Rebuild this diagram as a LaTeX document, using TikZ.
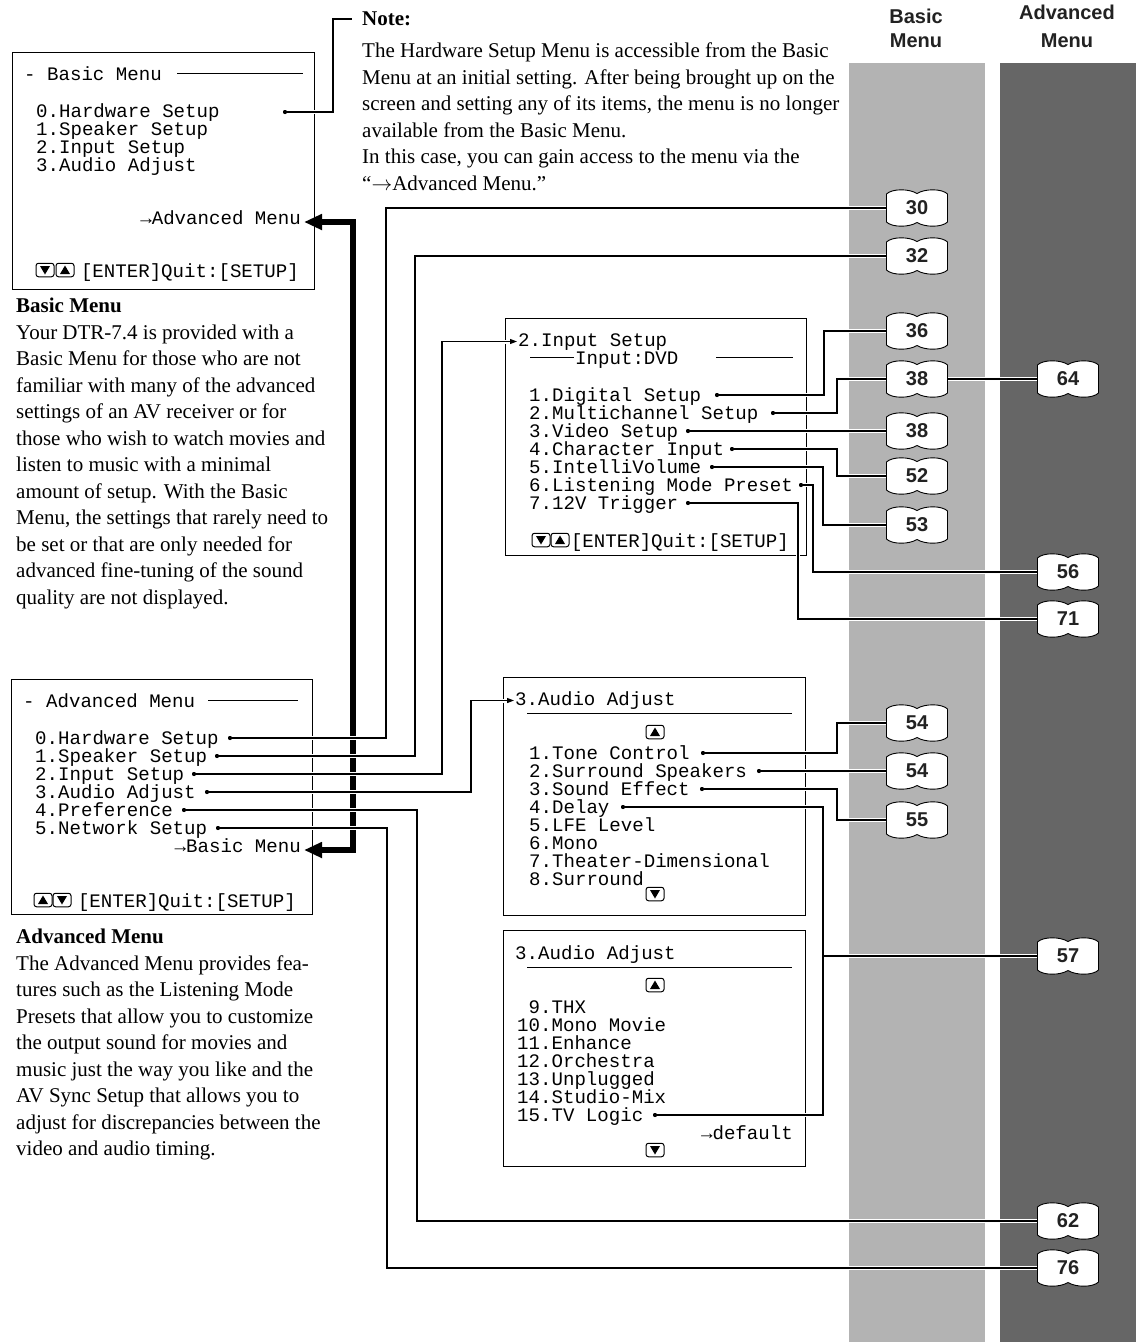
\documentclass[tikz,border=0pt]{standalone}
\usepackage{fontspec}
\setmainfont{Liberation Serif}
\setsansfont{Liberation Sans}
\setmonofont{Liberation Mono}
\usetikzlibrary{arrows.meta}
\definecolor{lightband}{HTML}{B3B3B3}
\definecolor{darkband}{HTML}{666666}
\definecolor{ink}{HTML}{222222}
\newcommand\monofs{\ttfamily\fontsize{19.1}{18}\selectfont}
\newcommand\bodyfs{\rmfamily\fontsize{21}{26.5}\selectfont}
\newcommand\pagebook[3]{%
  \begin{scope}[shift={(#2)}]
    \filldraw[bookline] (-30.5,-14) .. controls (-25,-19.5) and (-8,-19.5) .. (0,-14.5)
      .. controls (8,-19.5) and (25,-19.5) .. (30.5,-14) -- (30.5,14)
      .. controls (25,19.5) and (8,19.5) .. (0,14.5)
      .. controls (-8,19.5) and (-25,19.5) .. (-30.5,14) -- cycle;
  \end{scope}
  \node[booknode] (#1) at (#2) {#3};}
\newcommand\keyup[2]{%
  \node[keyn] (#1) at (#2) {};
  \begin{scope}[shift={(#2)}]\fill (-5,4) -- (5,4) -- (0,-4.5) -- cycle;\end{scope}}
\newcommand\keydn[2]{%
  \node[keyn] (#1) at (#2) {};
  \begin{scope}[shift={(#2)}]\fill (-5,-4) -- (5,-4) -- (0,4.5) -- cycle;\end{scope}}
\begin{document}
\begin{tikzpicture}[x=1pt,y=-1pt,
  mono/.style={font=\monofs, inner sep=0pt, anchor=west, text height=13pt, text depth=4pt, yshift=-2.5pt},
  monor/.style={mono, anchor=east},
  menubox/.style={draw, line width=1pt, inner sep=0pt, anchor=north west},
  rule/.style={line width=1pt},
  para/.style={font=\bodyfs, align=left, inner sep=0pt, anchor=north west},
  head/.style={font=\sffamily\bfseries\fontsize{20}{24}\selectfont, text=ink, align=center, inner sep=0pt},
  dotn/.style={circle, fill, inner sep=0pt, minimum size=4pt},
  conn/.style={line width=1.1pt, preaction={draw=white, line width=4pt}},
  inarrow/.style={conn, -{Triangle[length=7pt,width=5pt]}},
  bigarrow/.style={line width=5.5pt, {Triangle[length=18pt,width=15pt]}-{Triangle[length=18pt,width=15pt]}},
  booknode/.style={inner sep=0pt, minimum width=61pt, minimum height=30pt, font=\sffamily\bfseries\fontsize{20}{20}\selectfont, text=ink},
  bookline/.style={draw=black, fill=white, line width=0.9pt},
  keyn/.style={draw, rounded corners=2.5pt, minimum width=18pt, minimum height=13.5pt, inner sep=0pt, line width=1pt}
]
\useasboundingbox (0,0) rectangle (1136,1342);
\fill[white] (0,0) rectangle (1136,1342);
\fill[lightband] (849,63) rectangle (985,1342);
\fill[darkband] (1000,63) rectangle (1136,1342);

% headers
\node[head] (hbasic) at (916,28) {Basic\\Menu};
\node[head, font=\sffamily\bfseries\fontsize{20}{28}\selectfont] (hadv) at (1067,26) {Advanced\\Menu};

% note
\node[para] (note) at (362,12) {\textbf{Note:}\\[5.5pt]The Hardware Setup Menu is accessible from the Basic\\Menu at an initial setting. After being brought up on the\\screen and setting any of its items, the menu is no longer\\available from the Basic Menu.\\In this case, you can gain access to the menu via the\\“$\rightarrow$Advanced Menu.”};
\coordinate (noteend) at (352,19);

% paragraphs
\node[para] (basicpara) at (16,298) {\textbf{Basic Menu}\\Your DTR-7.4 is provided with a\\Basic Menu for those who are not\\familiar with many of the advanced\\settings of an AV receiver or for\\those who wish to watch movies and\\listen to music with a minimal\\amount of setup. With the Basic\\Menu, the settings that rarely need to\\be set or that are only needed for\\advanced fine-tuning of the sound\\quality are not displayed.};
\node[para] (advpara) at (16,929) {\textbf{Advanced Menu}\\The Advanced Menu provides fea-\\tures such as the Listening Mode\\Presets that allow you to customize\\the output sound for movies and\\music just the way you like and the\\AV Sync Setup that allows you to\\adjust for discrepancies between the\\video and audio timing.};

% Basic menu box
\node[menubox, minimum width=302pt, minimum height=237pt] (basicbox) at (12,52) {};
\node[mono] (bt) at (24,73) {- Basic Menu};
\draw[rule] (177,73) -- (303,73);
\node[mono] (b0) at (36,110) {0.Hardware Setup};
\node[mono] (b1) at (36,128) {1.Speaker Setup};
\node[mono] (b2) at (36,146) {2.Input Setup};
\node[mono] (b3) at (36,164) {3.Audio Adjust};
\node[monor] (tA) at (301,217) {→Advanced Menu};
\keydn{bk1}{45,270}
\keyup{bk2}{65,270}
\node[monor] (bq) at (299,270) {[ENTER]Quit:[SETUP]};

% Advanced menu box
\node[menubox, minimum width=301pt, minimum height=235pt] (advbox) at (11,679) {};
\node[mono] (at) at (23,700) {- Advanced Menu};
\draw[rule] (208,700) -- (298,700);
\node[mono] (m0) at (35,737) {0.Hardware Setup};
\node[mono] (m1) at (35,755) {1.Speaker Setup};
\node[mono] (m2) at (35,773) {2.Input Setup};
\node[mono] (m3) at (35,791) {3.Audio Adjust};
\node[mono] (m4) at (35,809) {4.Preference};
\node[mono] (m5) at (35,827) {5.Network Setup};
\node[monor] (tB) at (301,845) {→Basic Menu};
\keyup{ak1}{43,900}
\keydn{ak2}{62,900}
\node[monor] (aq) at (296,900) {[ENTER]Quit:[SETUP]};

% Input setup box
\node[menubox, minimum width=301pt, minimum height=237pt] (inbox) at (505,318) {};
\node[mono] (tIn) at (518,339) {2.Input Setup};
\draw[rule] (530,357) -- (574,357);
\node[mono] (tDvd) at (575,357) {Input:DVD};
\draw[rule] (716,357) -- (793,357);
\node[mono] (i1) at (529,394) {1.Digital Setup};
\node[mono] (i2) at (529,412) {2.Multichannel Setup};
\node[mono] (i3) at (529,430) {3.Video Setup};
\node[mono] (i4) at (529,448) {4.Character Input};
\node[mono] (i5) at (529,466) {5.IntelliVolume};
\node[mono] (i6) at (529,484) {6.Listening Mode Preset};
\node[mono] (i7) at (529,502) {7.12V Trigger};
\keydn{ik1}{541,540}
\keyup{ik2}{560,540}
\node[monor] (iq) at (789,540) {[ENTER]Quit:[SETUP]};

% Audio adjust box 1
\node[menubox, minimum width=302pt, minimum height=238pt] (aubox) at (503,677) {};
\node[mono] (tAu) at (515,698) {3.Audio Adjust};
\draw[rule] (527,713) -- (792,713);
\keyup{uk1}{655,732}
\node[mono] (u1) at (529,752) {1.Tone Control};
\node[mono] (u2) at (529,770) {2.Surround Speakers};
\node[mono] (u3) at (529,788) {3.Sound Effect};
\node[mono] (u4) at (529,806) {4.Delay};
\node[mono] (u5) at (529,824) {5.LFE Level};
\node[mono] (u6) at (529,842) {6.Mono};
\node[mono] (u7) at (529,860) {7.Theater-Dimensional};
\node[mono] (u8) at (529,878) {8.Surround};
\keydn{uk2}{655,894}

% Audio adjust box 2
\node[menubox, minimum width=302pt, minimum height=236pt] (aubox2) at (503,930) {};
\node[mono] (tAu2) at (515,952) {3.Audio Adjust};
\draw[rule] (527,967) -- (792,967);
\keyup{vk1}{655,985}
\node[mono] (v9) at (528.5,1006) {9.THX};
\node[mono] (v10) at (517,1024) {10.Mono Movie};
\node[mono] (v11) at (517,1042) {11.Enhance};
\node[mono] (v12) at (517,1060) {12.Orchestra};
\node[mono] (v13) at (517,1078) {13.Unplugged};
\node[mono] (v14) at (517,1096) {14.Studio-Mix};
\node[mono] (v15) at (517,1114) {15.TV Logic};
\node[monor] (vdef) at (793,1132) {→default};
\keydn{vk2}{655,1150}

% thick link between the menus
\draw[bigarrow] ([xshift=3pt,yshift=-2.5pt]tA.east) -- ++(49,0) |- ([xshift=3pt,yshift=-2.5pt]tB.east);

% dots
\node[dotn] (dB0) at (285,112) {};
\node[dotn] (e0) at (230,738) {};
\node[dotn] (e1) at (217,756) {};
\node[dotn] (e2) at (194,774) {};
\node[dotn] (e3) at (207,792) {};
\node[dotn] (e4) at (184,810) {};
\node[dotn] (e5) at (218,828) {};
\node[dotn] (d1) at (717,395) {};
\node[dotn] (d2) at (773,413) {};
\node[dotn] (d3) at (688,431) {};
\node[dotn] (d4) at (732,449) {};
\node[dotn] (d5) at (712,467) {};
\node[dotn] (d6) at (801,485) {};
\node[dotn] (d7) at (688,503) {};
\node[dotn] (a1) at (703,753) {};
\node[dotn] (a2) at (759,771) {};
\node[dotn] (a3) at (702,789) {};
\node[dotn] (a4) at (623,807) {};
\node[dotn] (tv) at (655,1115) {};
\coordinate (j57) at (823,956);

% book positions
\coordinate (p30) at (917,208);
\coordinate (p32) at (917,256);
\coordinate (p36) at (917,331);
\coordinate (p38a) at (917,379);
\coordinate (p38b) at (917,431);
\coordinate (p52) at (917,476);
\coordinate (p53) at (917,525);
\coordinate (p64) at (1068,379);
\coordinate (p56) at (1068,572);
\coordinate (p71) at (1068,619);
\coordinate (p54a) at (917,723);
\coordinate (p54b) at (917,771);
\coordinate (p55) at (917,820);
\coordinate (p57) at (1068,956);
\coordinate (p62) at (1068,1221);
\coordinate (p76) at (1068,1268);
\coordinate (w30) at (886.5,208);
\coordinate (w32) at (886.5,256);
\coordinate (w36) at (886.5,331);
\coordinate (w38a) at (886.5,379);
\coordinate (e38a) at (947.5,379);
\coordinate (w38b) at (886.5,431);
\coordinate (w52) at (886.5,476);
\coordinate (w53) at (886.5,525);
\coordinate (w64) at (1037.5,379);
\coordinate (w56) at (1037.5,572);
\coordinate (w71) at (1037.5,619);
\coordinate (w54a) at (886.5,723);
\coordinate (w54b) at (886.5,771);
\coordinate (w55) at (886.5,820);
\coordinate (w57) at (1037.5,956);
\coordinate (w62) at (1037.5,1221);
\coordinate (w76) at (1037.5,1268);

% connectors
\draw[conn] (dB0) -- ++(48,0) |- (noteend);
\draw[conn] (e0) -- ++(156,0) |- (w30);
\draw[conn] (e1) -- ++(198,0) |- (w32);
\draw[inarrow] (e2) -- ++(248,0) |- ([xshift=-1pt]tIn.west);
\draw[inarrow] (e3) -- ++(264,0) |- ([xshift=-1pt]tAu.west);
\draw[conn] (e4) -- ++(233,0) |- (w62);
\draw[conn] (e5) -- ++(169,0) |- (w76);
\draw[conn] (d1) -- ++(107,0) |- (w36);
\draw[conn] (d2) -- ++(64,0) |- (w38a);
\draw[conn] (d3) -- (w38b);
\draw[conn] (d4) -- ++(105,0) |- (w52);
\draw[conn] (d5) -- ++(111,0) |- (w53);
\draw[conn] (d6) -- ++(12,0) |- (w56);
\draw[conn] (d7) -- ++(110,0) |- (w71);
\draw[conn] (e38a) -- (w64);
\draw[conn] (a1) -- ++(134,0) |- (w54a);
\draw[conn] (a2) -- (w54b);
\draw[conn] (a3) -- ++(135,0) |- (w55);
\draw[conn] (a4) -| (j57) |- (tv) (j57) -- (w57);

% dots on top
\foreach \d in {dB0,e0,e1,e2,e3,e4,e5,d1,d2,d3,d4,d5,d6,d7,a1,a2,a3,a4,tv} \fill (\d) circle (2pt);

% page books
\pagebook{b30}{p30}{30}
\pagebook{b32}{p32}{32}
\pagebook{b36}{p36}{36}
\pagebook{b38a}{p38a}{38}
\pagebook{b38b}{p38b}{38}
\pagebook{b52}{p52}{52}
\pagebook{b53}{p53}{53}
\pagebook{b64}{p64}{64}
\pagebook{b56}{p56}{56}
\pagebook{b71}{p71}{71}
\pagebook{b54a}{p54a}{54}
\pagebook{b54b}{p54b}{54}
\pagebook{b55}{p55}{55}
\pagebook{b57}{p57}{57}
\pagebook{b62}{p62}{62}
\pagebook{b76}{p76}{76}
\end{tikzpicture}
\end{document}
